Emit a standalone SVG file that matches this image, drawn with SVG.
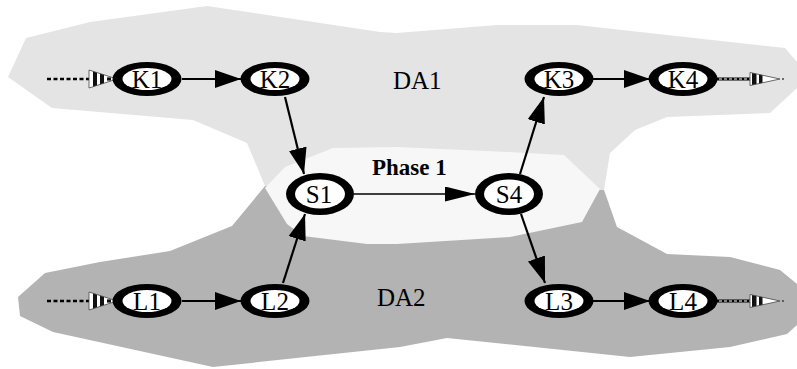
<svg xmlns="http://www.w3.org/2000/svg" width="797" height="369" viewBox="0 0 797 369">
  <style>
    .da1 { fill: #e4e4e4; }
    .da2 { fill: #b3b3b3; }
    .phase { fill: #f7f7f7; }
    .ring { fill: #000; }
    .hole { fill: #fff; }
    .lbl { font-family: "Liberation Serif", "Times New Roman", serif; font-size: 25px; fill: #000; text-anchor: middle; }
    .area { font-family: "Liberation Serif", "Times New Roman", serif; font-size: 25px; fill: #000; }
    .title { font-family: "Liberation Serif", "Times New Roman", serif; font-size: 23px; font-weight: bold; fill: #000; }
    .edge { stroke: #000; stroke-width: 2.2; fill: none; marker-end: url(#ah); }
    .edge-thin { stroke: #000; stroke-width: 1.3; fill: none; marker-end: url(#ahThin); }
    .dash-in { stroke: #000; stroke-width: 2.6; stroke-dasharray: 4 2.5; fill: none; }
    .dash-out { stroke: #000; stroke-width: 3; fill: none; }
    .dash-out-w { stroke: #fff; stroke-width: 1.1; stroke-dasharray: 3 2; fill: none; }
  </style>
  <defs>
    <marker id="ah" markerUnits="userSpaceOnUse" markerWidth="28" markerHeight="20" refX="26" refY="9" orient="auto">
      <path d="M0,0 L26,9 L0,18 z" fill="#000"/>
    </marker>
    <marker id="ahThin" markerUnits="userSpaceOnUse" markerWidth="32" markerHeight="17" refX="30" refY="7.5" orient="auto">
      <path d="M0,0 L30,7.5 L0,15 z" fill="#000"/>
    </marker>
    <clipPath id="triIn">
      <path d="M0,-9 L28,0 L0,9 z"/>
    </clipPath>
    <clipPath id="triOut">
      <path d="M0,-6.5 L30,0 L0,6.5 z"/>
    </clipPath>
    <!-- striped hollow arrowhead for incoming stubs -->
    <g id="tipIn">
      <path d="M0,-9 L28,0 L0,9 z" fill="#fff"/>
      <g clip-path="url(#triIn)" fill="#111">
        <rect x="4" y="-10" width="4" height="20"/>
        <rect x="11" y="-10" width="4" height="20"/>
        <rect x="18" y="-1.6" width="4" height="3.2"/>
      </g>
      <path d="M0,-9 L28,0 L0,9 z" fill="none" stroke="#444" stroke-width="0.8"/>
    </g>
    <!-- striped hollow arrowhead for outgoing stubs -->
    <g id="tipOut">
      <path d="M0,-6.5 L30,0 L0,6.5 z" fill="#fff"/>
      <g clip-path="url(#triOut)" fill="#111">
        <rect x="2" y="-8" width="4.5" height="16"/>
        <rect x="9" y="-8" width="3.5" height="16"/>
      </g>
      <path d="M0,-6.5 L30,0 L0,6.5 z" fill="none" stroke="#444" stroke-width="0.8"/>
      <circle cx="33" cy="0" r="0.9" fill="#333"/>
    </g>
  </defs>

  <!-- areas -->
  <g id="areas">
    <polygon id="DA1-area" class="da1" points="8,77 26,38 90,22 207,6 380,32 397,33 497,25 577,25 785,48 797,62 797,88 770,113 667,117 635,130 610,153 604,190 430,215 265,186 247,143 193,120 52,108"/>
    <polygon id="DA2-area" class="da2" points="265,186 604,190 617,227 667,254 730,257 780,270 797,284 797,325 787,334 730,347 630,357 447,338 400,347 213,367 53,332 20,316 18,297 45,273 100,262 170,251 232,226"/>
    <polygon id="Phase-area" class="phase" points="333,148 397,147 508,152 564,155 600,189 582,222 510,237 397,244 367,244 303,236 287,224 265,188 285,167"/>
  </g>

  <!-- connectors -->
  <g id="connectors">
    <line class="dash-in" x1="47" y1="79" x2="90" y2="79"/>
    <use href="#tipIn" x="89" y="79"/>
    <line class="dash-in" x1="47" y1="301" x2="90" y2="301"/>
    <use href="#tipIn" x="89" y="301"/>

    <line class="edge" x1="182" y1="79" x2="241" y2="79"/>
    <line class="edge" x1="182" y1="301" x2="241" y2="301"/>
    <line class="edge" x1="285" y1="97" x2="304" y2="174"/>
    <line class="edge" x1="283" y1="283" x2="305" y2="214"/>
    <line class="edge-thin" x1="354" y1="194" x2="475" y2="194"/>
    <line class="edge" x1="520" y1="174" x2="544" y2="97"/>
    <line class="edge" x1="521" y1="214" x2="545" y2="283"/>
    <line class="edge" x1="593" y1="79" x2="650" y2="79"/>
    <line class="edge" x1="593" y1="301" x2="650" y2="301"/>

    <line class="dash-out" x1="714" y1="79" x2="750" y2="79"/>
    <line class="dash-out-w" x1="714" y1="79" x2="750" y2="79"/>
    <use href="#tipOut" x="750" y="79"/>
    <line class="dash-out" x1="714" y1="301" x2="750" y2="301"/>
    <line class="dash-out-w" x1="714" y1="301" x2="750" y2="301"/>
    <use href="#tipOut" x="750" y="301"/>
  </g>

  <!-- nodes -->
  <g id="K1"><ellipse class="ring" cx="147" cy="79" rx="34.5" ry="17"/><ellipse class="hole" cx="147" cy="79" rx="24.5" ry="11"/><text class="lbl" x="147" y="88">K1</text></g>
  <g id="K2"><ellipse class="ring" cx="275" cy="79" rx="34.5" ry="17"/><ellipse class="hole" cx="275" cy="79" rx="24.5" ry="11"/><text class="lbl" x="275" y="88">K2</text></g>
  <g id="K3"><ellipse class="ring" cx="559" cy="79" rx="34.5" ry="17"/><ellipse class="hole" cx="559" cy="79" rx="24.5" ry="11"/><text class="lbl" x="559" y="88">K3</text></g>
  <g id="K4"><ellipse class="ring" cx="683" cy="79" rx="34.5" ry="17"/><ellipse class="hole" cx="683" cy="79" rx="24.5" ry="11"/><text class="lbl" x="683" y="88">K4</text></g>
  <g id="L1"><ellipse class="ring" cx="147" cy="301" rx="34.5" ry="17"/><ellipse class="hole" cx="147" cy="301" rx="24.5" ry="11"/><text class="lbl" x="147" y="310">L1</text></g>
  <g id="L2"><ellipse class="ring" cx="275" cy="301" rx="34.5" ry="17"/><ellipse class="hole" cx="275" cy="301" rx="24.5" ry="11"/><text class="lbl" x="275" y="310">L2</text></g>
  <g id="L3"><ellipse class="ring" cx="559" cy="301" rx="34.5" ry="17"/><ellipse class="hole" cx="559" cy="301" rx="24.5" ry="11"/><text class="lbl" x="559" y="310">L3</text></g>
  <g id="L4"><ellipse class="ring" cx="683" cy="301" rx="34.5" ry="17"/><ellipse class="hole" cx="683" cy="301" rx="24.5" ry="11"/><text class="lbl" x="683" y="310">L4</text></g>
  <g id="S1"><ellipse class="ring" cx="320" cy="194" rx="34" ry="21"/><ellipse class="hole" cx="320" cy="194" rx="25" ry="14.5"/><text class="lbl" x="319" y="203">S1</text></g>
  <g id="S4"><ellipse class="ring" cx="509" cy="194" rx="34" ry="21"/><ellipse class="hole" cx="509" cy="194" rx="25" ry="14.5"/><text class="lbl" x="509" y="203">S4</text></g>

  <!-- labels -->
  <g id="labels">
    <text class="area" x="393" y="89">DA1</text>
    <text class="area" x="377" y="306">DA2</text>
    <text class="title" x="372" y="175">Phase 1</text>
  </g>
</svg>
